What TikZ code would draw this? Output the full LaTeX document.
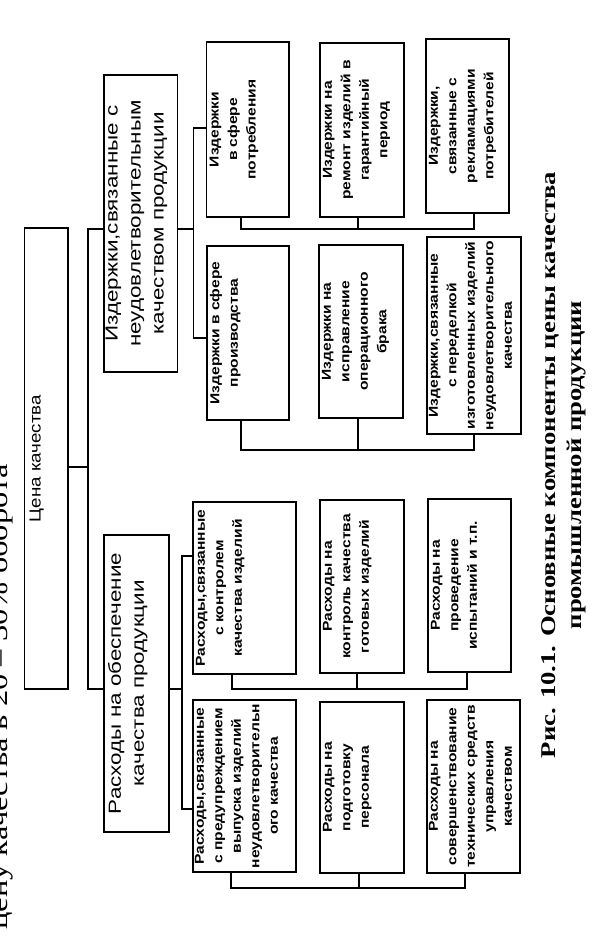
\documentclass[tikz,border=0pt]{standalone}
\usepackage{fontspec}
\setmainfont{Liberation Sans}
\newfontfamily\cenaf[FakeStretch=1.17]{Liberation Sans}
\newfontfamily\grpf[FakeStretch=1.28]{Liberation Sans}
\newfontfamily\smf[FakeStretch=1.2]{Liberation Sans}
\newfontfamily\capf[FakeStretch=1.27]{Liberation Serif}
\newfontfamily\bodyf[FakeStretch=1.25]{Liberation Serif}
\tikzset{
  bx/.style={draw, line width=1.3pt, inner sep=0pt, rotate=90},
  ln/.style={line width=1.3pt},
}
% name, x1, y1, x2, y2, font, top inset, text
\newcommand\mkbox[8]{%
  \node[bx] (#1) at ({(#2+#4)/2},{(#3+#5)/2})
   {\parbox[c][\dimexpr#4pt-#2pt\relax][t]{\dimexpr#5pt-#3pt\relax}{#6\centering\vspace*{#7}#8\par}};}
\newcommand\SM{\smf\bfseries\fontsize{13}{18.5}\selectfont}
\newcommand\GR{\grpf\fontsize{17.5}{23}\selectfont}
\begin{document}
\begin{tikzpicture}[x=1pt,y=-1pt]
\useasboundingbox (0,0) rectangle (594,941);
% partial body text at the left edge
\node[rotate=90, anchor=base west, inner sep=0pt,
      font=\bodyf\fontsize{26}{30}\selectfont] (body) at (7,930)
  {цену качества в 20 – 30\% оборота};
% boxes
\mkbox{cena}{24.6}{228}{68}{689}{\cenaf\fontsize{16}{20}\selectfont}{5pt}{Цена качества}
\mkbox{g1}{104}{75}{177.5}{372}{\GR}{1.5pt}{Издержки,связанные с\\неудовлетворительным\\качеством продукции}
\mkbox{g2}{104}{535}{169}{832}{\GR}{4pt}{Расходы на обеспечение\\качества продукции}
\mkbox{i11}{206.7}{42}{289}{217}{\SM}{3pt}{Издержки\\в сфере\\потребления}
\mkbox{i12}{207}{246}{289}{420}{\SM}{3pt}{Издержки в сфере\\производства}
\mkbox{i21}{320}{43}{404}{217}{\SM}{3pt}{Издержки на\\ремонт изделий в\\гарантийный\\период}
\mkbox{i22}{319}{245}{403}{418}{\SM}{3pt}{Издержки на\\исправление\\операционного\\брака}
\mkbox{i31}{426}{39}{509}{213}{\SM}{3pt}{Издержки,\\связанные с\\рекламациями\\потребителей}
\mkbox{i32}{427}{237}{521}{434}{\SM}{2pt}{Издержки,связанные\\с переделкой\\изготовленных изделий\\неудовлетворительного\\качества}
\mkbox{r11}{193}{502}{296}{674}{\SM}{3pt}{Расходы,связанные\\с контролем\\качества изделий}
\mkbox{r21}{320}{500}{404}{673}{\SM}{3pt}{Расходы на\\контроль качества\\готовых изделий}
\mkbox{r31}{428}{499}{511}{672}{\SM}{3pt}{Расходы на\\проведение\\испытаний и т.п.}
\mkbox{r12}{193}{700}{296}{872}{\SM}{2pt}{Расходы,связанные\\с предупреждением\\выпуска изделий\\неудовлетворительн\\ого качества}
\mkbox{r22}{320}{702}{404}{873}{\SM}{3pt}{Расходы на\\подготовку\\персонала}
\mkbox{r32}{427}{700}{520}{873}{\SM}{2pt}{Расходы на\\совершенствование\\технических средств\\управления\\качеством}
% caption
\node[rotate=90, align=center, inner sep=0pt,
      font=\capf\bfseries\fontsize{21}{26}\selectfont] (cap) at (564,465)
  {Рис. 10.1. Основные компоненты цены качества\\промышленной продукции};
% main connectors
\coordinate (cs) at (68,467);
\coordinate (bt) at (88,229);
\coordinate (bb) at (88,689);
\draw[ln] (cena.south |- cs) -- (cs -| bt);
\draw[ln] (g1.north |- bt) -- (bt) -- (bb) -- (g2.north |- bb);
% group Izderzhki
\coordinate (ig) at (193.4,229);
\coordinate (is1) at (193.4,128);
\coordinate (is2) at (193.4,338);
\draw[ln] (g1.south |- ig) -- (ig);
\draw[ln] (is1 -| i11.north) -- (is1) -- (is2) -- (is2 -| i12.north);
\coordinate (ia) at (241,229);
\coordinate (ib) at (358,229);
\coordinate (ic) at (474,229);
\draw[ln] (ia |- i11.west) -- (ia) -- (ic) -- (ic |- i31.west);
\draw[ln] (ib |- i21.west) -- (ib);
\coordinate (ja) at (241,450);
\coordinate (jb) at (358,450);
\coordinate (jc) at (474,450);
\draw[ln] (ja |- i12.west) -- (ja) -- (jc) -- (jc |- i32.west);
\draw[ln] (jb |- i22.west) -- (jb);
% group Raskhody
\coordinate (rg) at (182,689);
\coordinate (rs1) at (182,556);
\coordinate (rs2) at (182,809);
\draw[ln] (g2.south |- rg) -- (rg);
\draw[ln] (rs1 -| r11.north) -- (rs1) -- (rs2) -- (rs2 -| r12.north);
\coordinate (ka) at (232,689);
\coordinate (kb) at (357,689);
\coordinate (kc) at (467,689);
\draw[ln] (ka |- r11.west) -- (ka) -- (kc) -- (kc |- r31.west);
\draw[ln] (kb |- r21.west) -- (kb);
\coordinate (la) at (231,888);
\coordinate (lb) at (359,888);
\coordinate (lc) at (465,888);
\draw[ln] (la |- r12.west) -- (la) -- (lc) -- (lc |- r32.west);
\draw[ln] (lb |- r22.west) -- (lb);
\end{tikzpicture}
\end{document}
